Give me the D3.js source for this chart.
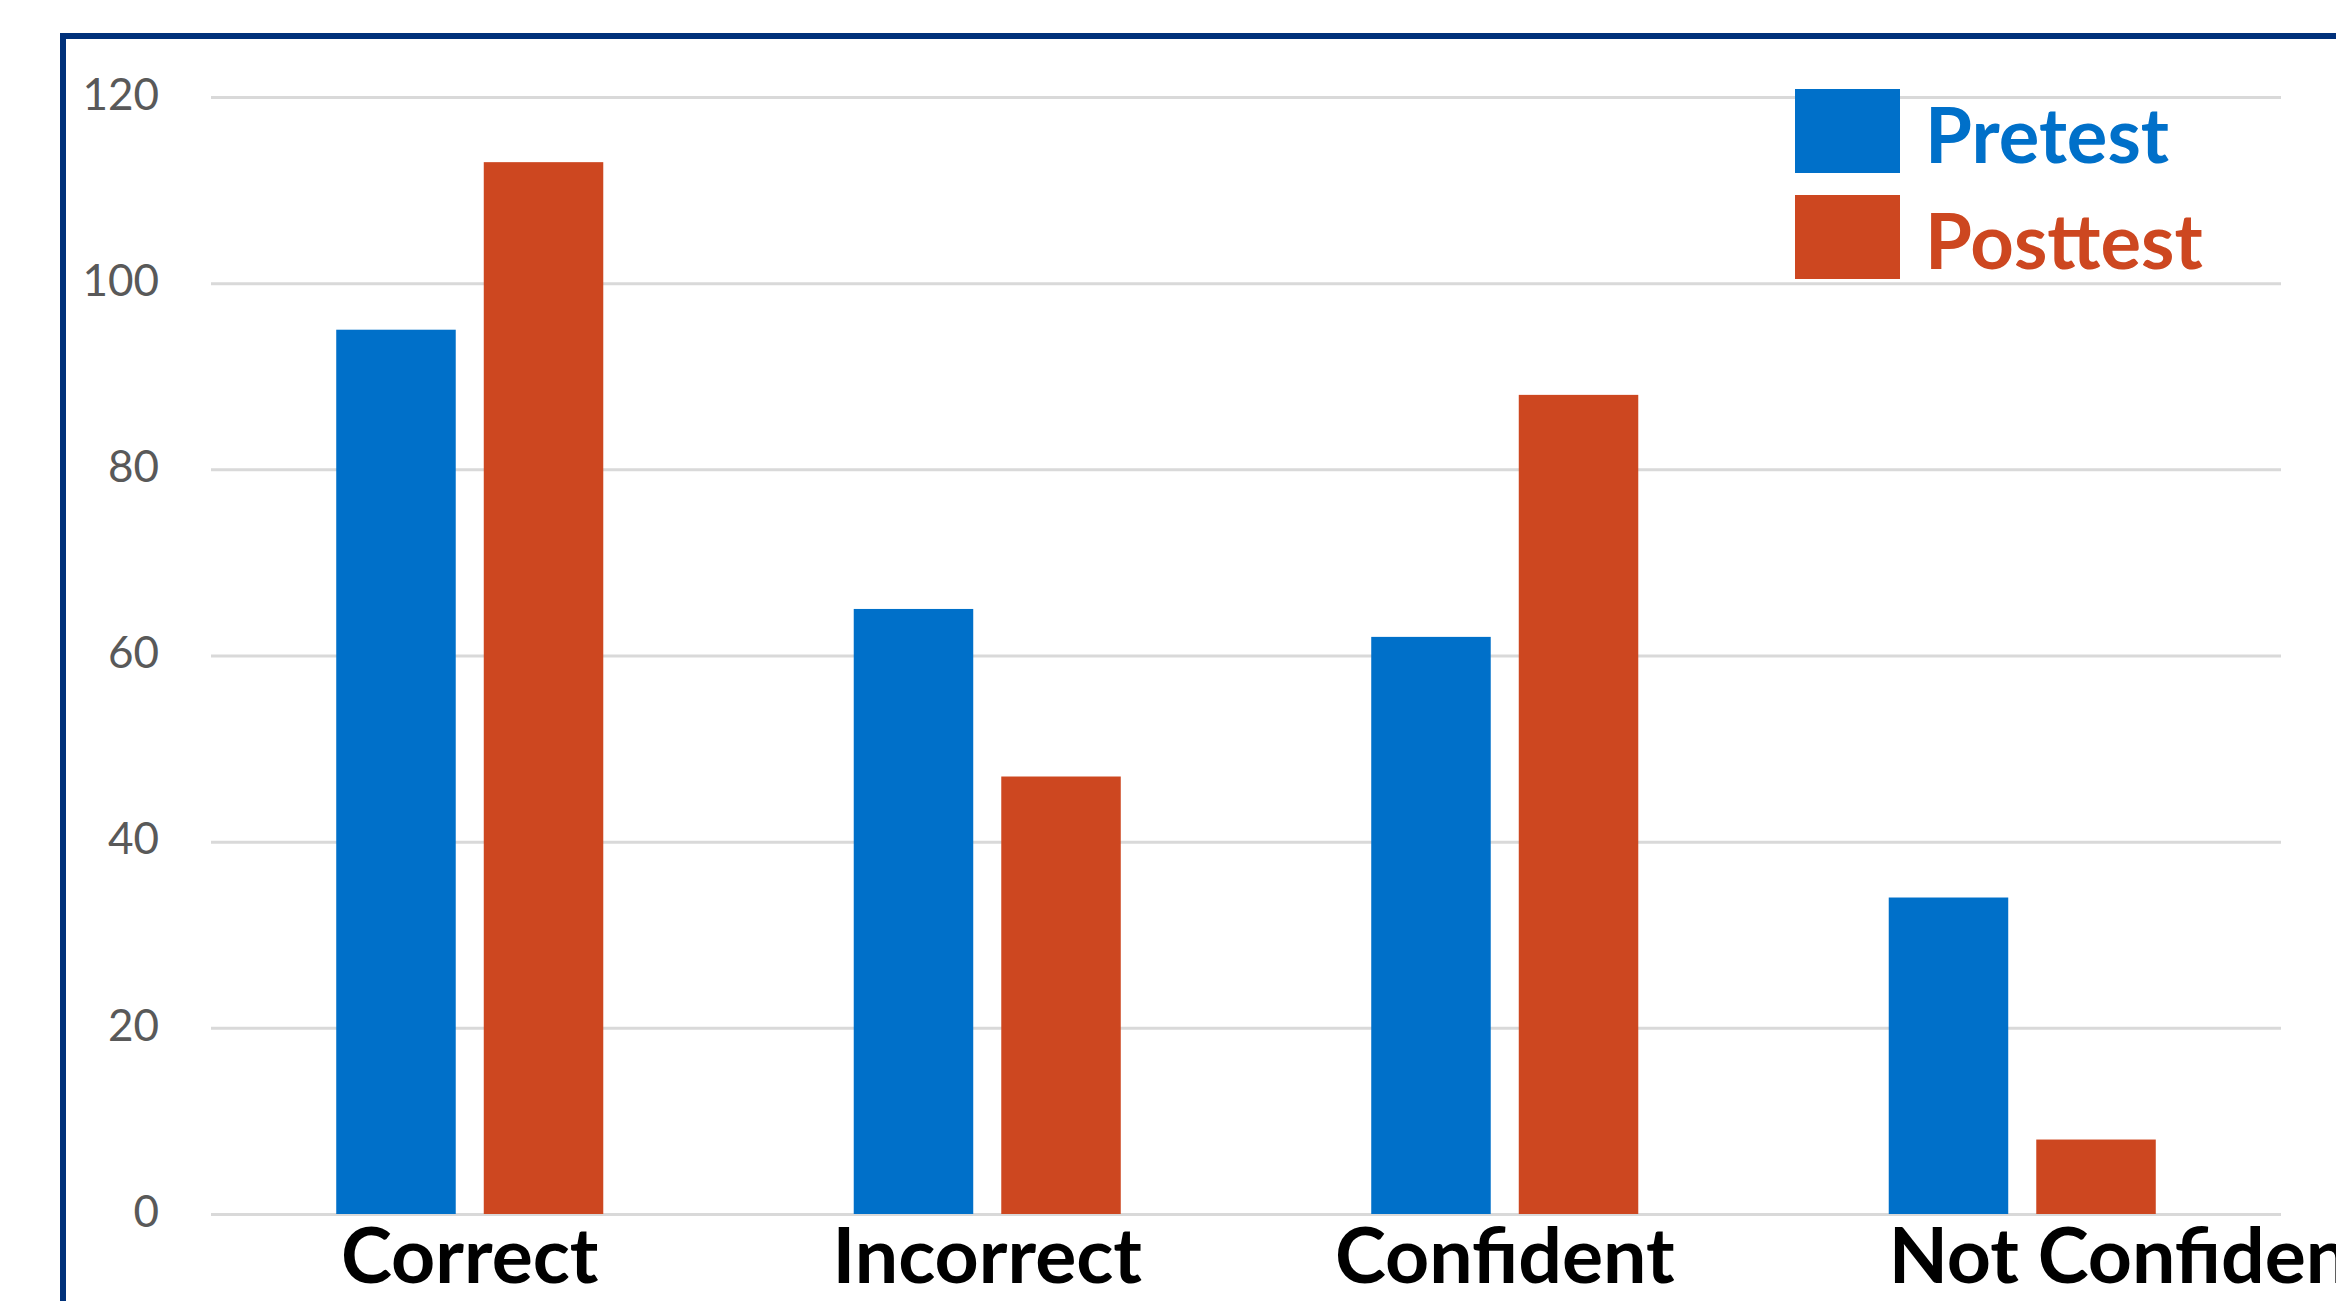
<!DOCTYPE html>
<html>
<head>
<meta charset="utf-8">
<script src="https://cdn.jsdelivr.net/npm/d3@7"></script>
<style>
  html, body { margin: 0; padding: 0; background: #ffffff; overflow: hidden; }
  svg { display: block; }
</style>
</head>
<body>
<svg id="chart" width="2336" height="1301"></svg>
<script>
// Survey answers before and after the session
const categories = ["Correct", "Incorrect", "Confident", "Not Confident"];
const seriesNames = ["Pretest", "Posttest"];
const pretest = [95, 65, 62, 34];
const posttest = [113, 47, 88, 8];
const yTicks = [0, 20, 40, 60, 80, 100, 120];
const seriesColors = ["#0070C9", "#CD4720"];

const svg = d3.select("#chart");
const W = 2336, H = 1301;

// Plot area
const plot = { left: 211, right: 2281, top: 97, bottom: 1214 };

// Dark frame around the chart, running off the right and bottom edges
svg.append("rect")
  .attr("x", 63).attr("y", 36)
  .attr("width", W + 40).attr("height", H + 40)
  .attr("fill", "none")
  .attr("stroke", "#00317A")
  .attr("stroke-width", 6);

const x0 = d3.scaleBand()
  .domain(categories)
  .range([plot.left, plot.right])
  .paddingInner(0.484)
  .paddingOuter(0.242);

const x1 = d3.scaleBand()
  .domain(seriesNames)
  .range([0, x0.bandwidth()])
  .paddingInner(0.19);

const y = d3.scaleLinear()
  .domain([0, 120])
  .range([plot.bottom, plot.top]);

// Value axis with horizontal gridlines
const yAxis = d3.axisLeft(y)
  .tickValues(yTicks)
  .tickSize(-(plot.right - plot.left))
  .tickPadding(52)
  .tickFormat(d3.format("d"));

const gy = svg.append("g")
  .attr("transform", `translate(${plot.left},0)`)
  .call(yAxis);
gy.select(".domain").remove();
gy.selectAll(".tick line")
  .attr("stroke", "#D9D9D9")
  .attr("stroke-width", 3);
gy.selectAll(".tick text")
  .attr("fill", "#595959")
  .attr("dy", "0.28em")
  .style("font-family", "Lato, 'Open Sans', sans-serif")
  .style("font-size", "44px");

// Bars
const rows = categories.map((c, i) => ({
  category: c,
  values: [
    { series: "Pretest", value: pretest[i] },
    { series: "Posttest", value: posttest[i] }
  ]
}));

const color = d3.scaleOrdinal().domain(seriesNames).range(seriesColors);

const groups = svg.append("g")
  .selectAll("g")
  .data(rows)
  .join("g")
  .attr("transform", d => `translate(${x0(d.category)},0)`);

groups.selectAll("rect")
  .data(d => d.values)
  .join("rect")
  .attr("x", d => x1(d.series))
  .attr("width", x1.bandwidth())
  .attr("y", d => y(d.value))
  .attr("height", d => y(0) - y(d.value))
  .attr("fill", d => color(d.series));

// Category labels under the bars; the long last label starts at its group's left edge
svg.append("g")
  .selectAll("text")
  .data(categories)
  .join("text")
  .attr("x", (d, i) => i === categories.length - 1
    ? x0(d)
    : x0(d) + x0.bandwidth() / 2)
  .attr("y", 1283)
  .attr("text-anchor", (d, i) => i === categories.length - 1 ? "start" : "middle")
  .attr("fill", "#000000")
  .style("font-family", "Lato, 'Open Sans', sans-serif")
  .style("font-weight", "700")
  .style("font-size", "77px")
  .text(d => d);

// Legend
const legend = svg.append("g")
  .attr("transform", "translate(1795,89)");

const item = legend.selectAll("g")
  .data(seriesNames)
  .join("g")
  .attr("transform", (d, i) => `translate(0,${i * 106})`);

item.append("rect")
  .attr("width", 105)
  .attr("height", 84)
  .attr("fill", d => color(d));

item.append("text")
  .attr("x", 130)
  .attr("y", 74)
  .attr("fill", d => color(d))
  .style("font-family", "Lato, 'Open Sans', sans-serif")
  .style("font-weight", "700")
  .style("font-size", "76px")
  .text(d => d);
</script>
</body>
</html>
